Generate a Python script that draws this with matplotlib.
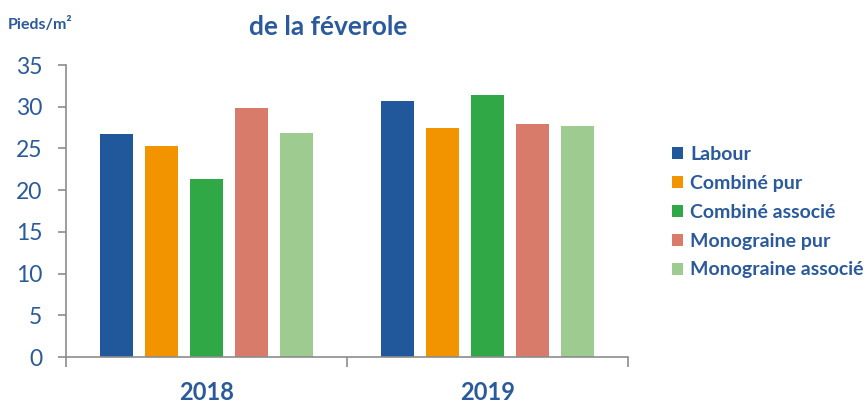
import matplotlib
matplotlib.use("Agg")
import matplotlib.pyplot as plt
from matplotlib.patches import Patch
import numpy as np

years = ["2018", "2019"]
series = ["Labour", "Combiné pur", "Combiné associé", "Monograine pur", "Monograine associé"]
values = {
    "Labour": [26.7, 30.7],
    "Combiné pur": [25.3, 27.5],
    "Combiné associé": [21.3, 31.4],
    "Monograine pur": [29.9, 27.9],
    "Monograine associé": [26.9, 27.7],
}
colors = ["#21579B", "#F29300", "#31A846", "#D97B6A", "#9DCB90"]
yticks = [0, 5, 10, 15, 20, 25, 30, 35]

txt = "#2A5A9C"
plt.rcParams['font.family'] = ['Lato', 'DejaVu Sans']

fig = plt.figure(figsize=(8.68, 4.03), dpi=100)
ax = fig.add_axes([66/868, 1-357/403, (628-66)/868, (357-65)/403])

x = np.arange(len(years))
slot = 45/281
bw = 33/281
for i, s in enumerate(series):
    ax.bar(x + (i-2)*slot, values[s], width=bw, color=colors[i], label=s, zorder=2)

ax.set_xlim(-0.5, 1.5)
ax.set_ylim(0, 35)
ax.set_yticks(yticks)
ax.set_yticklabels([str(t) for t in yticks], color=txt, fontsize=16.5)
ax.set_xticks([-0.5, 0.5, 1.5])
ax.set_xticklabels([])
ax.tick_params(axis='x', length=7, width=1.2, color="#8C8C8C", direction='out')
ax.tick_params(axis='y', length=6, width=1.2, color="#8C8C8C", direction='out', pad=11)
for sp in ["top", "right"]:
    ax.spines[sp].set_visible(False)
for sp in ["left", "bottom"]:
    ax.spines[sp].set_color("#8C8C8C")
    ax.spines[sp].set_linewidth(1.2)

for xi, y in zip(x, years):
    ax.text(xi, -0.12, y, transform=ax.get_xaxis_transform(), ha='center', va='center',
            fontsize=17, fontweight='bold', color=txt)

fig.text(328/868, 1-27/403, "de la féverole", ha='center', va='center', fontsize=19,
         fontweight='bold', color=txt)
fig.text(8/868, 1-25/403, "Pieds/m²", ha='left', va='center', fontsize=11.5,
         fontweight='bold', color=txt)

handles = [Patch(facecolor=c, edgecolor='none') for c in colors]
leg = fig.legend(handles, series, loc='upper left', bbox_to_anchor=(672/868, 1-146/403),
                 frameon=False, handlelength=0.57, handleheight=0.57, handletextpad=0.36,
                 labelspacing=0.61, fontsize=14, borderaxespad=0, borderpad=0)
for t in leg.get_texts():
    t.set_color(txt)
    t.set_fontweight('bold')

fig.savefig("out.png", dpi=100)
